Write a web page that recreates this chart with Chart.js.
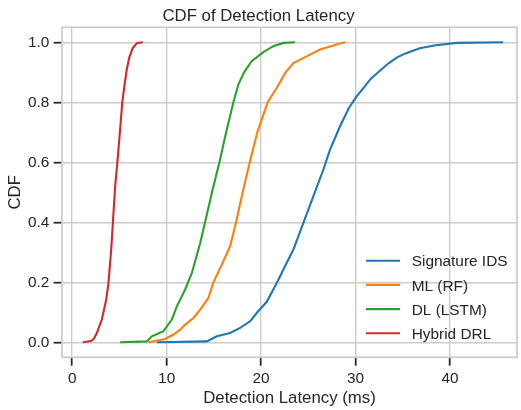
<!DOCTYPE html>
<html>
<head>
<meta charset="utf-8">
<title>CDF of Detection Latency</title>
<script src="https://cdn.jsdelivr.net/npm/chart.js@4.4.1/dist/chart.umd.min.js"></script>
<style>
  html, body { margin: 0; padding: 0; background: #ffffff; }
  #wrap { width: 521px; height: 410px; }
</style>
</head>
<body>
<div id="wrap"><canvas id="cdfChart" width="521" height="410"></canvas></div>
<script>
// Series: latency (ms) at a given CDF level
const seriesLabels = ['Signature IDS', 'ML (RF)', 'DL (LSTM)', 'Hybrid DRL'];
const seriesColors = ['#1f77b4', '#ff7f0e', '#2ca02c', '#d62728'];

const sigLatency = [8.96, 14.25, 15.31, 16.72, 17.78, 18.84, 19.6, 20.6, 21.66, 22.72, 23.42, 24.48, 25.54, 26.6, 27.3, 28.36, 29.3, 30.12, 30.9, 31.6, 32.4, 33.5, 34.4, 35.3, 36.8, 38.5, 40.7, 45.64];
const sigCdf     = [0, 0.003, 0.02, 0.031, 0.048, 0.07, 0.1, 0.135, 0.198, 0.265, 0.309, 0.398, 0.487, 0.576, 0.642, 0.72, 0.781, 0.82, 0.85, 0.878, 0.9, 0.93, 0.95, 0.963, 0.98, 0.99, 0.998, 1.0];

const rfLatency = [8.08, 9.84, 10.72, 11.43, 11.96, 12.84, 13.55, 14.43, 14.95, 15.84, 16.72, 17.25, 17.7, 18.05, 18.8, 19.6, 20.7, 21.7, 22.6, 23.42, 24.83, 26.24, 27.65, 28.9];
const rfCdf     = [0, 0.011, 0.026, 0.042, 0.059, 0.081, 0.109, 0.148, 0.2, 0.259, 0.32, 0.387, 0.45, 0.5, 0.6, 0.7, 0.8, 0.85, 0.9, 0.931, 0.953, 0.976, 0.989, 1.0];

const lstmLatency = [5.08, 7.9, 8.43, 9.67, 10.55, 11.08, 11.96, 12.67, 13.55, 14.07, 14.8, 15.59, 16.3, 17.07, 17.6, 18.2, 19.0, 20.24, 21.3, 22.36, 23.6];
const lstmCdf     = [0, 0.003, 0.02, 0.037, 0.076, 0.12, 0.176, 0.231, 0.33, 0.4, 0.5, 0.6, 0.7, 0.8, 0.86, 0.9, 0.937, 0.967, 0.987, 0.998, 1.0];

const drlLatency = [1.13, 2.0, 2.3, 2.61, 3.14, 3.6, 3.84, 4.13, 4.37, 4.55, 4.78, 5.05, 5.3, 5.55, 5.78, 6.05, 6.4, 6.84, 7.47];
const drlCdf     = [0, 0.004, 0.012, 0.031, 0.076, 0.142, 0.198, 0.309, 0.431, 0.52, 0.6, 0.7, 0.8, 0.86, 0.91, 0.95, 0.98, 0.997, 1.0];

const xTicks = [0, 10, 20, 30, 40];
const yTicks = [0.0, 0.2, 0.4, 0.6, 0.8, 1.0];

const TEXT = '#262626';
const GRID = '#cccccc';
Chart.defaults.font.family = '"Liberation Sans", Arial, Helvetica, sans-serif';
Chart.defaults.color = TEXT;

// zip latency/cdf arrays into points
function toPoints(xs, ys) {
    return xs.map((x, i) => ({ x: x, y: ys[i] }));
}

// light gray frame round the plot area (all four spines)
const framePlugin = {
    id: 'frame',
    beforeDatasetsDraw(chart) {
        const a = chart.chartArea;
        const ctx = chart.ctx;
        ctx.save();
        ctx.strokeStyle = GRID;
        ctx.lineWidth = 1.75;
        ctx.strokeRect(a.left, a.top, a.right - a.left, a.bottom - a.top);
        ctx.restore();
    }
};

// matplotlib-style legend inside the lower right corner, no box
const insideLegend = {
    id: 'insideLegend',
    afterDatasetsDraw(chart) {
        const a = chart.chartArea;
        const ctx = chart.ctx;
        const sets = chart.data.datasets;
        const rowGap = 24.2;
        const lineStart = a.right - 151;
        const lineEnd = lineStart + 34;
        const textX = lineEnd + 11.7;
        let y = a.bottom - 24 - rowGap * (sets.length - 1);
        ctx.save();
        ctx.font = '15.4px ' + Chart.defaults.font.family;
        ctx.textBaseline = 'middle';
        ctx.textAlign = 'left';
        sets.forEach((ds) => {
            ctx.strokeStyle = ds.borderColor;
            ctx.lineWidth = 2.1;
            ctx.beginPath();
            ctx.moveTo(lineStart, y);
            ctx.lineTo(lineEnd, y);
            ctx.stroke();
            ctx.fillStyle = TEXT;
            ctx.fillText(ds.label, textX, y + 1.5);
            y += rowGap;
        });
        ctx.restore();
    }
};

const allLatency = [sigLatency, rfLatency, lstmLatency, drlLatency];
const allCdf = [sigCdf, rfCdf, lstmCdf, drlCdf];

new Chart(document.getElementById('cdfChart'), {
    type: 'line',
    data: {
        datasets: seriesLabels.map((label, i) => ({
            label: label,
            data: toPoints(allLatency[i], allCdf[i]),
            borderColor: seriesColors[i],
            backgroundColor: seriesColors[i],
            borderWidth: 2.1,
            pointRadius: 0,
            tension: 0,
            fill: false,
            order: seriesLabels.length - 1 - i
        }))
    },
    options: {
        responsive: false,
        animation: false,
        layout: { padding: { left: 0, right: 4, top: 0, bottom: 0 } },
        plugins: {
            legend: { display: false },
            tooltip: { enabled: false },
            title: {
                display: true,
                text: 'CDF of Detection Latency',
                color: TEXT,
                font: { size: 16.8, weight: 'normal' },
                padding: { top: 6.7, bottom: 0.44 }
            }
        },
        scales: {
            x: {
                type: 'linear',
                min: -1.08,
                max: 47.1,
                afterFit(scale) { scale.height = 52.7; },
                afterBuildTicks(scale) { scale.ticks = xTicks.map(v => ({ value: v })); },
                ticks: {
                    includeBounds: false,
                    padding: 3.5,
                    color: TEXT,
                    font: { size: 15.4 },
                    maxRotation: 0,
                    callback: (v) => String(v)
                },
                grid: {
                    color: GRID,
                    lineWidth: 1.4,
                    drawTicks: true,
                    tickLength: 8.4,
                    tickWidth: 1.75,
                    tickColor: TEXT
                },
                border: { display: false },
                title: {
                    display: true,
                    text: 'Detection Latency (ms)',
                    color: TEXT,
                    font: { size: 16.8 },
                    padding: { top: 0, bottom: 1.8 }
                }
            },
            y: {
                type: 'linear',
                min: -0.05,
                max: 1.05,
                afterFit(scale) { scale.width = 62; },
                afterBuildTicks(scale) { scale.ticks = yTicks.map(v => ({ value: v })); },
                ticks: {
                    includeBounds: false,
                    padding: 4.3,
                    color: TEXT,
                    font: { size: 15.4 },
                    callback: (v) => Number(v).toFixed(1)
                },
                grid: {
                    color: GRID,
                    lineWidth: 1.4,
                    drawTicks: true,
                    tickLength: 8.4,
                    tickWidth: 1.75,
                    tickColor: TEXT
                },
                border: { display: false },
                title: {
                    display: true,
                    text: 'CDF',
                    color: TEXT,
                    font: { size: 16.8 },
                    padding: { top: 5.4, bottom: 0 }
                }
            }
        }
    },
    plugins: [framePlugin, insideLegend]
});
</script>
</body>
</html>
